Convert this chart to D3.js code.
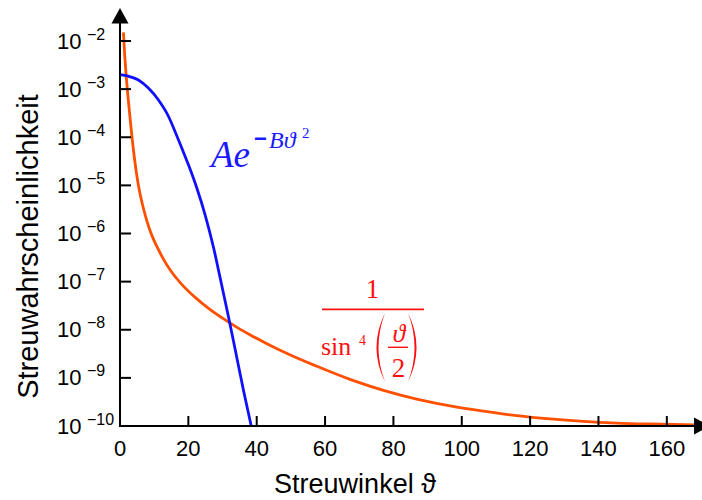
<!DOCTYPE html>
<html><head><meta charset="utf-8">
<script src="https://cdn.jsdelivr.net/npm/d3@7"></script>
<style>body{margin:0;background:#fff}svg{display:block}</style>
</head><body>
<svg id="chart" width="702" height="500"></svg>
<script>
// ---- data ----
const xTickValues = [0, 20, 40, 60, 80, 100, 120, 140, 160];
const xTickLabels = ["0", "20", "40", "60", "80", "100", "120", "140", "160"];
const yTickValues = [1e-2, 1e-3, 1e-4, 1e-5, 1e-6, 1e-7, 1e-8, 1e-9, 1e-10];
const yTickExponents = ["\u22122", "\u22123", "\u22124", "\u22125", "\u22126", "\u22127", "\u22128", "\u22129", "\u221210"];

// Gaussian curve  A e^{-B θ²}
const gaussTheta = [0, 2.4, 5.4, 8.3, 11.2, 14.2, 16.1, 18.1, 20.0, 22.5, 24.9, 27.4, 29.3, 31.8, 34.2, 36.2, 38.4];
const gaussProb  = [2.0e-3, 1.86e-3, 1.55e-3, 1.05e-3, 6.0e-4, 2.7e-4, 1.32e-4, 5.9e-5, 2.7e-5, 8.7e-6, 2.45e-6, 5.0e-7, 1.2e-7, 1.78e-8, 2.6e-9, 5.2e-10, 1.0e-10];

// Rutherford curve  1 / sin^4(θ/2)
const ruthTheta = [1.0, 1.4, 1.8, 2.2, 2.8, 3.4, 4.2, 5.0, 5.6, 6.5, 7.5, 8.5, 9.5, 11, 13, 15, 18, 22, 26, 30, 34, 38, 44, 50, 57.6, 67.3, 77.1, 86.8, 96.6, 106.3, 116.1, 125.8, 135.6, 145.4, 155.1, 168.8];
const ruthProb  = [1.51e-2, 4.8e-3, 1.91e-3, 8.9e-4, 3.16e-4, 1.2e-4, 3.8e-5, 1.48e-5, 8.3e-6, 4.2e-6, 2.24e-6, 1.32e-6, 8.5e-7, 5.0e-7, 2.7e-7, 1.62e-7, 8.9e-8, 4.7e-8, 2.75e-8, 1.74e-8, 1.15e-8, 7.9e-9, 4.7e-9, 2.95e-9, 1.74e-9, 9.3e-10, 5.5e-10, 3.63e-10, 2.63e-10, 2.04e-10, 1.64e-10, 1.40e-10, 1.245e-10, 1.15e-10, 1.10e-10, 1.06e-10];

const xTitle = "Streuwinkel \u03D1";
const yTitle = "Streuwahrscheinlichkeit";

// ---- drawing ----
const svg = d3.select("#chart");
const sans = "'Liberation Sans', Arial, sans-serif";
const serif = "'Liberation Serif', 'Times New Roman', serif";

const x = d3.scaleLinear().domain([0, 170]).range([120, 701]);
const y = d3.scaleLog().domain([1e-10, 1e-2]).range([426, 41]);
const x0 = x(0), y0 = y(1e-10);

// curves
const line = d3.line().x(d => x(d[0])).y(d => y(d[1])).curve(d3.curveMonotoneX);
svg.append("path").datum(d3.zip(ruthTheta, ruthProb))
  .attr("d", line).attr("fill", "none").attr("stroke", "#ff5000").attr("stroke-width", 2.8);
svg.append("path").datum(d3.zip(gaussTheta, gaussProb))
  .attr("d", line).attr("fill", "none").attr("stroke", "#1010ff").attr("stroke-width", 2.8);

// axes
const ax = svg.append("g").attr("stroke", "#000").attr("stroke-width", 2);
ax.append("line").attr("x1", x0).attr("x2", 696).attr("y1", y0).attr("y2", y0);
ax.append("line").attr("x1", x0).attr("x2", x0).attr("y1", y0 + 1).attr("y2", 22);
svg.append("path").attr("d", `M${x0},8 L${x0 + 8.5},23.5 L${x0 - 8.5},23.5 Z`).attr("fill", "#000");
svg.append("path").attr("d", `M710,${y0} L694,${y0 - 8.5} L694,${y0 + 8.5} Z`).attr("fill", "#000");

// tick marks
ax.selectAll(".xt").data(xTickValues.filter(v => v > 0)).join("line")
  .attr("x1", d => x(d)).attr("x2", d => x(d)).attr("y1", y0).attr("y2", y0 - 10);
ax.selectAll(".yt").data(yTickValues.filter(v => v > 1e-10)).join("line")
  .attr("x1", x0).attr("x2", x0 + 11).attr("y1", d => y(d)).attr("y2", d => y(d));

// tick labels
svg.selectAll(".xl").data(xTickValues).join("text")
  .attr("x", d => x(d)).attr("y", y0 + 30).attr("text-anchor", "middle")
  .attr("font-family", sans).attr("font-size", 22).text((d, i) => xTickLabels[i]);
const yl = svg.selectAll(".yl").data(yTickValues).join("g");
yl.append("text").attr("x", 57).attr("y", d => y(d) + 7.5)
  .attr("font-family", sans).attr("font-size", 22).text("10");
yl.append("text").attr("x", 87).attr("y", d => y(d) - 1.5)
  .attr("font-family", sans).attr("font-size", 16).text((d, i) => yTickExponents[i]);

// axis titles
svg.append("text").attr("x", 355).attr("y", 493).attr("text-anchor", "middle")
  .attr("font-family", sans).attr("font-size", 27).text(xTitle);
svg.append("text").attr("transform", "translate(38,246.5) rotate(-90)").attr("text-anchor", "middle")
  .attr("font-family", sans).attr("font-size", 29).text(yTitle);

// blue formula  A e^{-Bϑ²}
const blue = "#1a1aff";
const bf = svg.append("g").attr("fill", blue).attr("font-family", serif);
bf.append("text").attr("x", 211).attr("y", 167).attr("font-size", 37).attr("font-style", "italic").text("Ae");
bf.append("text").attr("x", 254).attr("y", 146).attr("font-size", 22).attr("font-weight", "bold")
  .attr("font-family", sans).text("\u2212");
bf.append("text").attr("x", 269).attr("y", 148).attr("font-size", 24).attr("font-style", "italic").text("B\u03D1");
bf.append("text").attr("x", 302).attr("y", 138).attr("font-size", 15).text("2");

// red formula  1 / sin^4(ϑ/2)
const red = "#ff1010";
const rf = svg.append("g").attr("fill", red).attr("font-family", serif);
rf.append("text").attr("x", 372.5).attr("y", 298).attr("text-anchor", "middle").attr("font-size", 27).text("1");
rf.append("line").attr("x1", 322).attr("x2", 424).attr("y1", 309.3).attr("y2", 309.3).attr("stroke", red).attr("stroke-width", 1.8);
rf.append("text").attr("x", 321).attr("y", 355).attr("font-size", 26).text("sin");
rf.append("text").attr("x", 359).attr("y", 345).attr("font-size", 14).text("4");
rf.append("path").attr("d", "M385,313 Q368,347.5 385,382 Q372,347.5 385,313 Z");
rf.append("path").attr("d", "M408,313 Q425,347.5 408,382 Q421,347.5 408,313 Z");
rf.append("text").attr("x", 399).attr("y", 342).attr("text-anchor", "middle").attr("font-size", 26).attr("font-style", "italic").text("\u03D1");
rf.append("line").attr("x1", 388).attr("x2", 408).attr("y1", 347.3).attr("y2", 347.3).attr("stroke", red).attr("stroke-width", 1.4);
rf.append("text").attr("x", 398.5).attr("y", 377).attr("text-anchor", "middle").attr("font-size", 27).text("2");
</script>
</body></html>
